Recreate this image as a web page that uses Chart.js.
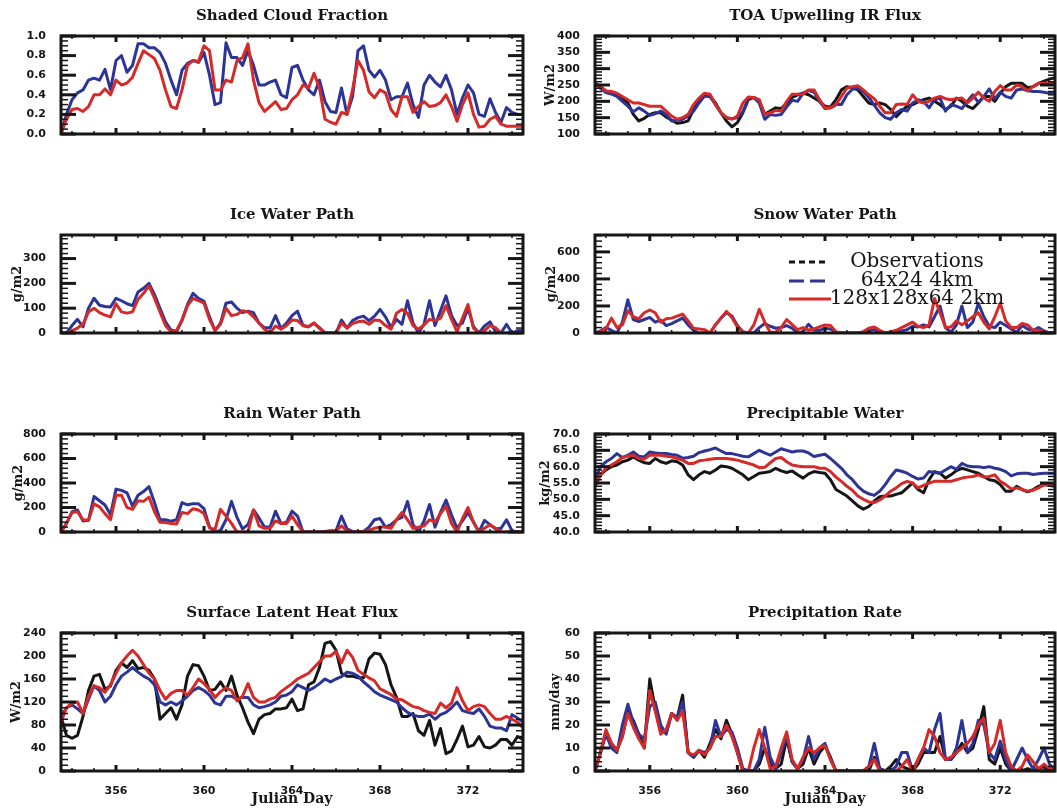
<!DOCTYPE html>
<html>
<head>
<meta charset="utf-8">
<script src="https://cdn.jsdelivr.net/npm/chart.js@4.4.1/dist/chart.umd.min.js"></script>
<style>
  html, body { margin: 0; padding: 0; background: #fff; overflow: hidden; }
  body { width: 1057px; height: 810px; position: relative; }
  canvas { position: absolute; }
</style>
</head>
<body>
<script>
// 6-hourly samples, Julian day 353.5 .. 374.5
const dayStart = 353.5, dayStep = 0.25, nSamples = 85;
const days = [];
for (let i = 0; i < nSamples; i++) days.push(dayStart + i * dayStep);
const dayTicks = [356, 360, 364, 368, 372];

const seriesNames = ["Observations", "64x24 4km", "128x128x64 2km"];
const seriesColors = ["#151515", "#2c3597", "#d52a27"];

// Shaded Cloud Fraction
const cloudCoarse = [0.0,0.2,0.35,0.42,0.45,0.55,0.57,0.55,0.66,0.45,
  0.75,0.8,0.63,0.7,0.92,0.92,0.88,0.88,0.83,0.72,
  0.55,0.4,0.65,0.72,0.75,0.73,0.83,0.6,0.3,0.32,
  0.93,0.78,0.78,0.7,0.85,0.7,0.5,0.5,0.53,0.55,
  0.4,0.37,0.68,0.7,0.55,0.45,0.4,0.55,0.33,0.23,
  0.22,0.47,0.2,0.38,0.85,0.9,0.65,0.58,0.65,0.55,
  0.35,0.38,0.38,0.52,0.3,0.17,0.5,0.6,0.53,0.48,
  0.6,0.45,0.2,0.37,0.5,0.42,0.2,0.18,0.36,0.22,
  0.12,0.27,0.22,0.2,0.2];
const cloudFine = [0.0,0.15,0.25,0.26,0.23,0.28,0.4,0.4,0.46,0.4,
  0.55,0.5,0.52,0.58,0.72,0.85,0.81,0.77,0.65,0.45,
  0.28,0.26,0.45,0.7,0.75,0.74,0.9,0.85,0.45,0.45,
  0.55,0.53,0.75,0.78,0.92,0.55,0.32,0.23,0.28,0.33,
  0.25,0.26,0.35,0.4,0.5,0.47,0.62,0.47,0.15,0.12,
  0.1,0.22,0.2,0.45,0.75,0.65,0.43,0.37,0.45,0.42,
  0.25,0.18,0.38,0.38,0.22,0.28,0.33,0.28,0.29,0.32,
  0.4,0.28,0.13,0.3,0.42,0.2,0.07,0.08,0.15,0.18,
  0.1,0.08,0.08,0.08,0.08];

// TOA Upwelling IR Flux (W/m2)
const toaObs = [255,245,232,225,220,210,195,160,140,148,
  160,165,165,152,142,133,135,140,175,200,
  217,215,195,165,140,122,135,165,205,212,
  200,160,170,180,178,195,212,220,225,220,
  210,200,185,183,205,235,245,242,235,215,
  195,190,195,190,175,153,170,185,190,198,
  205,210,200,190,175,185,210,200,185,178,
  195,215,215,200,225,245,255,255,255,242,
  245,255,262,268,272];
const toaCoarse = [255,240,227,222,215,200,185,168,180,170,
  157,162,170,160,140,142,145,155,170,195,
  217,215,190,165,150,147,150,168,210,212,
  195,145,160,157,160,183,203,200,225,233,
  228,200,178,180,190,190,220,237,240,230,
  212,188,165,150,145,165,175,170,195,205,
  200,180,205,210,170,190,185,178,200,220,
  197,215,238,208,228,215,210,235,238,232,
  230,230,228,225,225];
const toaFine = [255,245,232,230,225,215,205,195,195,190,
  185,185,185,170,155,145,150,160,190,210,
  225,222,190,165,150,145,155,195,213,212,
  205,160,165,172,170,200,222,222,222,235,
  235,205,180,180,190,215,240,245,248,235,
  220,208,185,165,165,190,192,190,220,200,
  195,200,210,215,208,205,208,210,195,210,
  228,210,200,230,248,235,235,250,245,232,
  245,255,255,255,255];

// Ice Water Path (g/m2)
const iwpCoarse = [0,0,30,55,25,100,140,112,107,105,
  140,130,118,110,165,180,200,155,100,45,
  12,5,52,115,160,140,128,65,10,40,
  120,125,100,82,88,82,40,22,20,70,
  18,40,70,88,30,25,40,22,0,0,
  0,52,20,50,62,68,50,68,95,65,
  22,55,35,130,40,0,35,130,30,90,
  150,70,30,40,100,25,0,28,45,5,
  0,35,0,10,10];
const iwpFine = [0,0,10,20,35,85,100,82,72,65,
  118,85,80,85,135,160,190,140,85,30,
  5,10,50,110,140,130,120,55,10,35,
  100,70,75,90,85,65,40,15,0,28,
  15,30,52,50,30,25,40,18,0,0,
  0,40,20,38,45,48,35,52,50,30,
  15,80,95,80,30,15,32,55,50,60,
  110,55,5,60,115,20,0,10,30,22,
  0,0,0,0,0];

// Snow Water Path (g/m2)
const swpCoarse = [0,15,40,20,0,80,245,100,85,100,
  115,80,95,55,70,90,110,60,20,0,
  0,0,60,110,150,125,55,10,0,0,
  40,70,50,35,40,55,35,0,10,65,
  20,20,35,30,5,0,0,0,0,0,
  15,25,0,0,0,5,15,25,50,45,
  60,45,120,200,40,5,60,200,40,80,
  220,120,50,40,80,55,30,5,55,30,
  20,40,15,0,0];
const swpFine = [0,10,30,110,40,60,165,120,105,150,
  170,150,80,105,110,125,140,90,35,30,
  25,0,60,110,160,115,45,5,0,60,
  175,80,5,5,40,100,62,25,40,22,
  30,45,60,55,10,0,0,0,0,10,
  35,45,20,0,10,20,40,60,80,50,
  40,60,255,150,40,45,90,60,90,120,
  150,80,30,120,220,90,40,40,70,60,
  20,20,10,0,0];

// Rain Water Path (g/m2)
const rwpCoarse = [0,70,165,180,90,95,290,255,220,140,
  350,340,320,210,300,330,370,240,100,100,
  88,100,240,222,230,230,190,40,0,12,
  100,250,120,25,60,180,115,40,40,170,
  70,80,170,130,0,0,0,0,5,10,
  10,130,25,5,0,5,40,100,110,40,
  60,100,120,250,60,0,90,225,40,160,
  260,140,30,90,160,80,0,95,60,25,
  30,100,10,0,0];
const rwpFine = [0,70,160,165,100,95,230,205,150,100,
  300,300,200,185,255,250,285,165,80,78,
  70,65,160,150,190,180,150,35,20,185,
  130,70,0,0,0,180,50,30,30,90,
  70,70,130,60,0,0,0,0,0,5,
  10,50,10,0,0,5,15,30,40,40,
  30,100,160,100,30,40,50,100,80,150,
  210,70,0,110,200,80,0,30,60,30,
  0,0,0,0,0];

// Precipitable Water (kg/m2)
const pwObs = [54,57.5,59,60,60.5,61.5,62,63,62,61.2,
  61,62.5,61.5,61,61.8,61.5,60.5,57.5,56,57.5,
  58.5,58,59,60.2,60,59.5,58.5,57.5,56,57,
  58,58.2,58.5,59.5,58.7,58.2,58.7,57.5,56.5,57.8,
  58.5,58.2,58,56,53,52,51,49.5,48,47,
  47.8,49.5,50.8,51,51,51.5,52,53.5,55,53,
  52,56,58.5,58,56.5,57.5,58.8,59.5,59,58.5,
  58,57,56,55.7,54.5,52.5,52.5,54,53,52.3,
  53,54,54.5,54.2,54];
const pwCoarse = [56,60,61.5,62.5,64,62.8,63.5,64.5,63.2,63,
  64.5,64.2,64,64,63.7,63.5,62.6,62.8,63.2,64.3,
  64.8,65.2,65.7,64.8,64,64,63.6,63.2,63,64,
  65,64.2,63.5,64.5,65.5,65,64.5,64.8,64.8,64.2,
  63.1,63.5,63.8,62.5,61,59.5,57.5,56,54,52.5,
  51.7,51.2,52.5,54.5,57,59,58.6,58,57,56.2,
  56.5,58.5,58.2,58,59,60,59.2,61,60.2,60,
  60,59.7,60,59.5,59.2,58.5,57.2,57.8,58,58,
  57.6,57.8,58,58,58];
const pwFine = [55,57.5,59.5,60.5,61.5,62.8,63.2,63.5,62.5,62.3,
  63.5,63.5,63.5,63.2,63,62.5,62,61,61,61.8,
  62,62.3,62.5,62.5,62.5,62.3,62,61.5,61,60.5,
  59.7,59.8,61.2,62.5,62.8,61.5,60.5,60.2,60,60,
  60,59.5,59.5,58.5,56.8,55.5,54,52.8,51,50,
  49.2,49,49.8,51,52.5,53.5,54.8,55.5,55,53.5,
  54.3,55,55.5,55.5,55.5,55.5,56,56.5,56.8,57,
  57.5,56.8,57,57.5,55.5,54.5,53.2,53.5,53,52.5,
  52.8,53.5,54.5,54.5,54.5];

// Surface Latent Heat Flux (W/m2)
const lhfObs = [95,62,57,62,95,140,165,168,142,148,
  175,188,180,192,178,180,175,160,90,100,
  110,90,115,165,185,183,165,140,142,155,
  140,165,132,110,85,65,90,98,100,108,
  108,110,125,105,108,150,155,180,222,225,
  210,170,165,165,162,162,195,205,203,185,
  150,128,95,95,100,70,62,88,45,74,
  30,35,55,78,42,45,60,42,40,45,
  55,55,45,60,55];
const lhfCoarse = [95,110,115,108,100,125,148,140,120,130,
  150,165,172,180,172,165,160,150,120,115,
  120,115,122,130,140,145,140,132,118,115,
  130,130,125,128,128,115,110,112,115,120,
  130,132,138,150,145,140,145,152,160,155,
  160,164,172,170,165,155,147,138,132,128,
  124,120,110,102,97,95,95,99,90,98,
  102,110,120,105,102,100,108,95,78,75,
  75,70,98,92,85];
const lhfFine = [85,110,118,120,100,130,148,145,137,150,
  170,188,200,210,200,185,170,160,140,125,
  135,140,140,132,145,160,152,142,128,138,
  145,140,122,130,152,128,120,120,125,128,
  138,145,152,160,165,170,180,190,200,200,
  208,188,210,198,175,168,162,157,143,138,
  133,125,124,118,112,110,105,102,100,118,
  110,118,145,122,105,112,115,112,100,90,
  90,95,90,85,75];

// Precipitation Rate (mm/day)
const prObs = [0,8,17,12,9,15,26,22,16,10,
  40,27,17,17,25,23,33,8,6,9,
  6,12,18,14,22,16,8,0,0,0,
  3,10,3,1,3,14,4,1,3,10,
  3,8,11,6,0,0,0,0,0,0,
  0,6,1,0,2,5,2,1,0,3,
  8,8,8,15,5,5,8,12,8,10,
  18,28,5,3,10,3,0,0,0,1,
  0,1,2,0,0];
const prCoarse = [0,8,16,10,8,20,29,21,16,14,
  28,30,20,16,25,23,30,8,6,9,
  8,10,22,15,18,17,10,1,0,0,
  5,19,6,1,8,15,4,1,5,15,
  5,10,12,5,0,0,0,0,0,0,
  2,12,1,0,0,2,8,8,0,5,
  10,8,18,25,5,5,10,22,8,12,
  22,20,8,5,13,5,0,5,10,5,
  1,5,10,3,0];
const prFine = [0,8,18,12,9,15,25,19,14,10,
  35,26,16,18,25,22,26,8,7,9,
  7,10,15,15,20,15,8,0,0,10,
  18,10,1,2,10,17,5,1,6,10,
  8,10,11,5,0,0,0,0,0,0,
  2,5,0,0,0,0,2,5,0,5,
  10,18,15,8,5,6,8,10,12,15,
  20,23,8,12,22,8,2,0,2,7,
  4,1,3,1,0];

// axis tick values
const cloudTicks = [0, 0.2, 0.4, 0.6, 0.8, 1.0];
const toaTicks = [100, 150, 200, 250, 300, 350, 400];
const iwpTicks = [0, 100, 200, 300];
const swpTicks = [0, 200, 400, 600];
const rwpTicks = [0, 200, 400, 600, 800];
const pwTicks = [40, 45, 50, 55, 60, 65, 70];
const lhfTicks = [0, 40, 80, 120, 160, 200, 240];
const prTicks = [0, 10, 20, 30, 40, 50, 60];

// unitPad: distance of the rotated unit label from the panel's left edge
const panels = [
  { title: "Shaded Cloud Fraction", unit: "", unitPad: 8, min: 0, max: 1, ticks: cloudTicks, minor: 0.05, dec: 1, series: [null, cloudCoarse, cloudFine] },
  { title: "TOA Upwelling IR Flux", unit: "W/m2", unitPad: 8, min: 100, max: 400, ticks: toaTicks, minor: 10, dec: 0, series: [toaObs, toaCoarse, toaFine] },
  { title: "Ice Water Path", unit: "g/m2", unitPad: 9, min: 0, max: 395, ticks: iwpTicks, minor: 20, dec: 0, series: [null, iwpCoarse, iwpFine] },
  { title: "Snow Water Path", unit: "g/m2", unitPad: 9, min: 0, max: 725, ticks: swpTicks, minor: 40, dec: 0, series: [null, swpCoarse, swpFine], legend: true },
  { title: "Rain Water Path", unit: "g/m2", unitPad: 10, min: 0, max: 800, ticks: rwpTicks, minor: 40, dec: 0, series: [null, rwpCoarse, rwpFine] },
  { title: "Precipitable Water", unit: "kg/m2", unitPad: 3, min: 40, max: 70, ticks: pwTicks, minor: 1, dec: 1, series: [pwObs, pwCoarse, pwFine] },
  { title: "Surface Latent Heat Flux", unit: "W/m2", unitPad: 8, min: 0, max: 240, ticks: lhfTicks, minor: 10, dec: 0, series: [lhfObs, lhfCoarse, lhfFine] },
  { title: "Precipitation Rate", unit: "mm/day", unitPad: 13, min: 0, max: 60, ticks: prTicks, minor: 2, dec: 0, series: [prObs, prCoarse, prFine] }
];

// page layout of the plot frames
const colLeft = [61, 595], colWidth = [462, 460];
const rowTop = [36, 235, 434, 633], plotH = 138;
const padL = 60, padT = 36, padR = 10;

const ink = "#161616";

// IDL style frame with inward ticks on all four sides
const framePlugin = {
  id: "idlFrame",
  afterDatasetsDraw(chart) {
    const o = chart.options.plugins.idlFrame;
    const { ctx, chartArea: a } = chart;
    const x = chart.scales.x, y = chart.scales.y;
    const seg = (x1, y1, x2, y2, w) => {
      ctx.lineWidth = w;
      ctx.beginPath(); ctx.moveTo(x1, y1); ctx.lineTo(x2, y2); ctx.stroke();
    };
    ctx.save();
    ctx.strokeStyle = ink;
    for (let k = 0; ; k++) {
      const v = y.min + k * o.minor;
      if (v > y.max + 1e-9) break;
      const py = y.getPixelForValue(v);
      seg(a.left, py, a.left + 7, py, 1.5);
      seg(a.right, py, a.right - 7, py, 1.5);
    }
    o.yTicks.forEach(v => {
      const py = y.getPixelForValue(v);
      seg(a.left, py, a.left + 15, py, 3);
      seg(a.right, py, a.right - 15, py, 3);
    });
    for (let d = Math.ceil(x.min); d <= x.max; d++) {
      const px = x.getPixelForValue(d);
      seg(px, a.bottom, px, a.bottom - 3, 1.5);
      seg(px, a.top, px, a.top + 3, 1.5);
    }
    dayTicks.forEach(d => {
      const px = x.getPixelForValue(d);
      seg(px, a.bottom, px, a.bottom - 6, 3);
      seg(px, a.top, px, a.top + 6, 3);
    });
    ctx.lineWidth = 3;
    ctx.strokeRect(a.left, a.top, a.right - a.left, a.bottom - a.top);
    ctx.restore();
  }
};

const legendDash = [[6, 4], [15, 6], []];
const legendPlugin = {
  id: "runLegend",
  afterDatasetsDraw(chart) {
    const o = chart.options.plugins.runLegend;
    if (!o || !o.show) return;
    const { ctx, chartArea: a } = chart;
    const rows = [27, 46, 64];
    ctx.save();
    ctx.font = "20px 'DejaVu Serif', serif";
    ctx.textAlign = "center";
    ctx.textBaseline = "middle";
    seriesNames.forEach((name, i) => {
      const yy = a.top + rows[i];
      ctx.strokeStyle = seriesColors[i];
      ctx.lineWidth = 3;
      ctx.setLineDash(legendDash[i]);
      ctx.beginPath();
      ctx.moveTo(a.left + 194, yy);
      ctx.lineTo(a.left + (i === 2 ? 236 : 233), yy);
      ctx.stroke();
      ctx.setLineDash([]);
      ctx.fillStyle = ink;
      ctx.fillText(name, a.left + 322, yy);
    });
    ctx.restore();
  }
};

panels.forEach((p, i) => {
  const row = Math.floor(i / 2), col = i % 2;
  const bottomRow = row === 3;
  const w = padL + colWidth[col] + padR;
  const h = padT + plotH + (bottomRow ? 40 : 6);

  const canvas = document.createElement("canvas");
  canvas.width = w;
  canvas.height = h;
  canvas.style.left = (colLeft[col] - padL) + "px";
  canvas.style.top = (rowTop[row] - padT) + "px";
  document.body.appendChild(canvas);

  const datasets = [];
  p.series.forEach((vals, s) => {
    if (!vals) return;
    datasets.push({
      label: seriesNames[s],
      data: days.map((d, k) => ({ x: d, y: vals[k] })),
      borderColor: seriesColors[s],
      borderWidth: 3,
      borderJoinStyle: "round",
      pointRadius: 0,
      tension: 0,
      fill: false,
      order: 3 - s
    });
  });

  new Chart(canvas.getContext("2d"), {
    type: "line",
    data: { datasets },
    options: {
      responsive: false,
      devicePixelRatio: 1,
      animation: false,
      events: [],
      layout: { padding: { left: 0, top: 0, right: padR, bottom: bottomRow ? 0 : 6 } },
      scales: {
        x: {
          type: "linear",
          min: dayStart,
          max: dayStart + (nSamples - 1) * dayStep,
          display: bottomRow,
          afterFit: s => { s.height = 40; },
          afterBuildTicks: s => { s.ticks = dayTicks.map(v => ({ value: v })); },
          grid: { display: false },
          border: { display: false },
          ticks: {
            color: ink,
            padding: 6,
            autoSkip: false,
            maxRotation: 0,
            font: { family: "'DejaVu Sans', sans-serif", size: 11, weight: "bold" }
          },
          title: {
            display: bottomRow,
            text: "Julian Day",
            color: ink,
            padding: { top: 0, bottom: 3.6 },
            font: { family: "'DejaVu Serif', serif", size: 14, weight: "bold" }
          }
        },
        y: {
          type: "linear",
          min: p.min,
          max: p.max,
          afterFit: s => { s.width = padL; },
          afterBuildTicks: s => { s.ticks = p.ticks.map(v => ({ value: v })); },
          grid: { display: false },
          border: { display: false },
          ticks: {
            color: ink,
            padding: 7,
            font: { family: "'DejaVu Sans', sans-serif", size: 11, weight: "bold" },
            callback: v => Number(v).toFixed(p.dec)
          },
          title: {
            display: p.unit !== "",
            text: p.unit,
            color: ink,
            padding: { top: p.unitPad, bottom: 0 },
            font: { family: "'DejaVu Serif', serif", size: 13, weight: "bold" }
          }
        }
      },
      plugins: {
        legend: { display: false },
        tooltip: { enabled: false },
        title: {
          display: true,
          text: p.title,
          fullSize: false,
          color: ink,
          padding: { top: 7, bottom: 11 },
          font: { family: "'DejaVu Serif', serif", size: 15, weight: "bold" }
        },
        idlFrame: { yTicks: p.ticks, minor: p.minor },
        runLegend: { show: !!p.legend }
      }
    },
    plugins: [framePlugin, legendPlugin]
  });
});
</script>
</body>
</html>
